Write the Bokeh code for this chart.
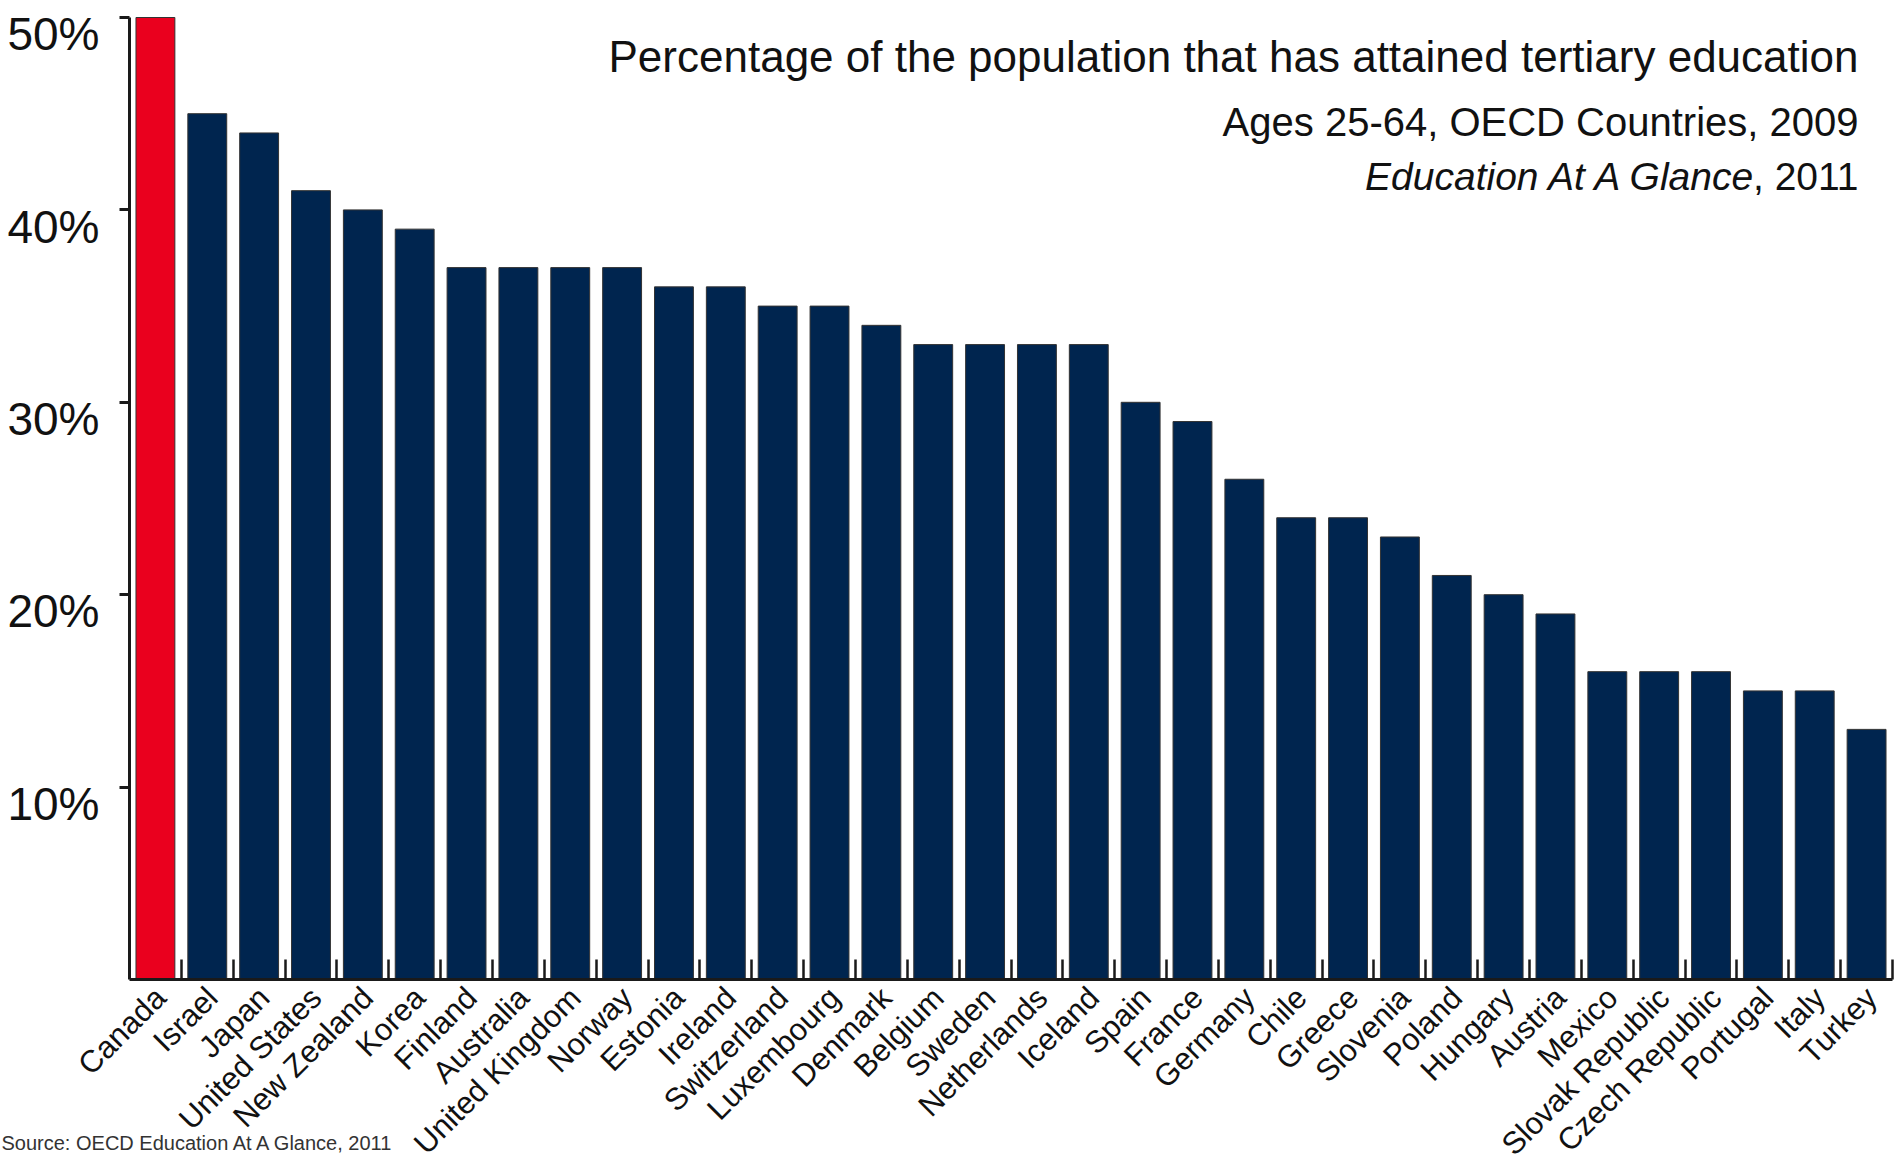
from bokeh.plotting import figure
from bokeh.models import (ColumnDataSource, Range1d, LinearAxis, FixedTicker, Label, LabelSet)
from bokeh.core.properties import value
from bokeh.embed import file_html
from bokeh.resources import INLINE

countries = ["Canada", "Israel", "Japan", "United States", "New Zealand", "Korea", "Finland",
             "Australia", "United Kingdom", "Norway", "Estonia", "Ireland", "Switzerland",
             "Luxembourg", "Denmark", "Belgium", "Sweden", "Netherlands", "Iceland", "Spain",
             "France", "Germany", "Chile", "Greece", "Slovenia", "Poland", "Hungary", "Austria",
             "Mexico", "Slovak Republic", "Czech Republic", "Portugal", "Italy", "Turkey"]
values = [50, 45, 44, 41, 40, 39, 37, 37, 37, 37, 36, 36, 35, 35, 34, 33, 33, 33, 33, 30,
          29, 26, 24, 24, 23, 21, 20, 19, 16, 16, 16, 15, 15, 13]
y_ticks = [10, 20, 30, 40, 50]
y_tick_labels = ["10%", "20%", "30%", "40%", "50%"]
highlight = "Canada"

title_1 = "Percentage of the population that has attained tertiary education"
title_2 = "Ages 25-64, OECD Countries, 2009"
title_3_italic = "Education At A Glance"
title_3_rest = ", 2011"
source_note = "Source: OECD Education At A Glance, 2011"

RED = "#EA001E"
NAVY = "#00254F"
INK = "#111111"
AXIS = "#1a1a1a"
FONT = "Liberation Sans"

# canvas geometry (pixels): the plotting frame fills the whole canvas
W, H = 1897, 1164
left_px, right_px, top_px, base_px = 129, 1892, 17, 979
y_max = 50

n = len(countries)
pitch = (right_px - left_px) / n          # px per category
ppu = (base_px - top_px) / y_max          # px per percentage point

centers = [i + 0.5 for i in range(n)]
colors = [RED if c == highlight else NAVY for c in countries]
src = ColumnDataSource(dict(country=countries, pos=centers, pct=values, color=colors))

p = figure(x_range=Range1d(-left_px / pitch, n + (W - right_px) / pitch),
           y_range=Range1d(-(H - base_px) / ppu, y_max + top_px / ppu),
           width=W, height=H, output_backend="svg", toolbar_location=None,
           x_axis_location=None, y_axis_location=None,
           min_border=0, min_border_left=0, min_border_right=0,
           min_border_top=0, min_border_bottom=0)
p.outline_line_color = None
p.grid.visible = False
p.background_fill_color = "white"
p.border_fill_color = "white"

p.vbar(x="pos", top="pct", width=0.75, source=src,
       fill_color="color", line_color="#333333", line_width=1)

# y axis: line + outward ticks, drawn at x = 0
y_tick_axis = LinearAxis(ticker=FixedTicker(ticks=y_ticks), fixed_location=0, bounds=(0, y_max),
                         major_label_overrides={t: "" for t in y_ticks},
                         major_label_text_font_size="0px", major_label_standoff=0,
                         axis_line_width=3, axis_line_color=AXIS,
                         major_tick_line_width=3, major_tick_line_color=AXIS,
                         major_tick_out=10, major_tick_in=0, minor_tick_line_color=None)
p.add_layout(y_tick_axis, "left")
# y axis labels, hanging just below each tick
label_drop = 0.87
label_pos = [t - label_drop for t in y_ticks]
y_label_axis = LinearAxis(ticker=FixedTicker(ticks=label_pos), fixed_location=0,
                          bounds=(0, y_max),
                          major_label_overrides=dict(zip(label_pos, y_tick_labels)),
                          major_label_text_font=FONT, major_label_text_font_size="46px",
                          major_label_text_color=INK, major_label_standoff=30,
                          major_tick_out=0, major_tick_in=0,
                          axis_line_color=None, major_tick_line_color=None,
                          minor_tick_line_color=None)
p.add_layout(y_label_axis, "left")

# bottom axis: line + inward ticks at category boundaries, drawn at y = 0
x_tick_axis = LinearAxis(ticker=FixedTicker(ticks=list(range(1, n + 1))), fixed_location=0,
                         bounds=(0, n),
                         major_label_overrides={i: "" for i in range(0, n + 1)},
                         major_label_text_font_size="0px", major_label_standoff=0,
                         axis_line_width=3, axis_line_color=AXIS,
                         major_tick_in=20, major_tick_out=0,
                         major_tick_line_width=2.5, major_tick_line_color=AXIS,
                         minor_tick_line_color=None)
p.add_layout(x_tick_axis, "below")

# category labels under each bar, rotated 45 degrees
cat_labels = LabelSet(x="pos", y=-13 / ppu, text="country", source=src,
                      angle=45, angle_units="deg", x_offset=5,
                      text_align="right", text_baseline="middle",
                      text_font=value(FONT), text_font_size="31px", text_color=INK)
p.add_layout(cat_labels)

# titles (top right)
tx = (1858 - left_px) / pitch
p.add_layout(Label(x=tx, y=(base_px - 56) / ppu, text=title_1, text_align="right",
                   text_baseline="alphabetic", text_font=FONT, text_font_size="44px",
                   text_color=INK))
p.add_layout(Label(x=tx, y=(base_px - 121) / ppu, text=title_2, text_align="right",
                   text_baseline="alphabetic", text_font=FONT, text_font_size="40px",
                   text_color=INK))
p.add_layout(Label(x=tx, y=(base_px - 176) / ppu, text=title_3_rest, text_align="right",
                   text_baseline="alphabetic", text_font=FONT, text_font_size="39px",
                   text_color=INK))
p.add_layout(Label(x=tx, y=(base_px - 176) / ppu, x_offset=-101, text=title_3_italic,
                   text_align="right", text_baseline="alphabetic", text_font=FONT,
                   text_font_size="39px", text_font_style="italic", text_color=INK))

# source note (bottom left)
p.add_layout(Label(x=(1 - left_px) / pitch, y=-(1142 - base_px) / ppu, text=source_note,
                   text_align="left", text_baseline="alphabetic", text_font=FONT,
                   text_font_size="20px", text_color="#333333"))

open("out.html", "w").write(file_html(p, INLINE))
